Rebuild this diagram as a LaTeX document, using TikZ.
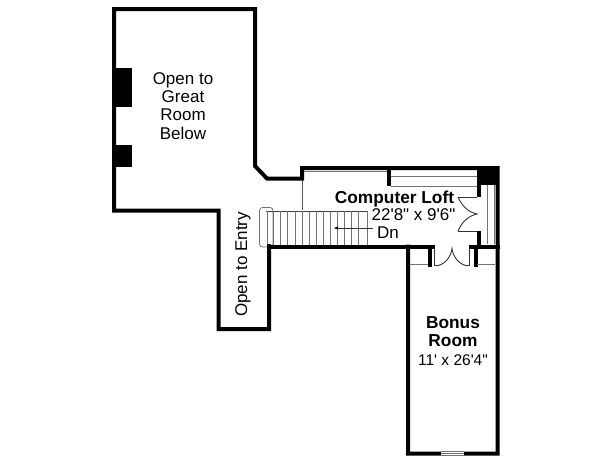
\documentclass[tikz,border=0pt]{standalone}
\usepackage{fontspec}
\newfontfamily\hs{Liberation Sans}
\tikzset{
 wall/.style={line width=4pt,line join=miter,line cap=rect,black},
 thin wall/.style={line width=1pt,black!65},
 fine/.style={line width=0.8pt,black!55},
 door/.style={line width=0.9pt,black!80},
 label/.style={font=\hs\fontsize{17}{18.3}\selectfont,align=center,inner sep=0pt,anchor=base},
 small label/.style={font=\hs\fontsize{15.5}{18}\selectfont,align=center,inner sep=0pt,anchor=base},
 blabel/.style={font=\hs\bfseries\fontsize{17.3}{18}\selectfont,align=center,inner sep=0pt,anchor=base},
}
\begin{document}
\begin{tikzpicture}[x=1pt,y=-1pt]
\useasboundingbox (0,0) rectangle (600,461);
\fill[white] (0,0) rectangle (600,461);
% rail
\draw[fine,rounded corners=3pt] (259.5,207.5) rectangle (273,247);
% fine lines in loft
\draw[fine] (304,171.5) -- (387,171.5);
\draw[fine] (391,176.5) -- (477,176.5);
\draw[fine] (391,186) -- (477,186);
\draw[thin wall,line width=1.3pt] (302.5,180) -- (302.5,210);
\draw[fine] (487,185) -- (487,244);
\draw[fine] (494.5,185) -- (494.5,244);
% stairs
\draw[line width=1.6pt,black!75] (266,211.5) -- (368,211.5);
\foreach \x in {267,273.5,280.5,287.5,295,302,309,316,323,330,337,344,351,358,367}
  \draw[fine] (\x,211) -- (\x,245);
% main walls
\draw[wall] (269,246) -- (269,329) -- (218.5,329) -- (218.5,210.5) -- (114,210.5) -- (114,9) -- (255,9) -- (255,166) -- (267,178.5) -- (302,178.5) -- (302,168) -- (497.5,168) -- (497.5,453.5) -- (408,453.5) -- (408,246.5);
\draw[wall] (269,246.5) -- (433,246.5);
\draw[wall] (471,246.5) -- (497.5,246.5);
% blocks
\fill (112,68) rectangle (132,107);
\fill (112,145) rectangle (132,167);
\fill (477,167) rectangle (499,185);
\fill (387,168) rectangle (391,186);
\fill (477,185) rectangle (480.5,197);
\fill (477,231) rectangle (480.5,246);
\fill (428,246) rectangle (431.5,267);
\fill (474,246) rectangle (477.5,267);
% window
\fill[white] (441,451) rectangle (463.5,456);
\draw[fine] (441,451.5) -- (463.5,451.5) (441,453.7) -- (463.5,453.7) (441,455.7) -- (463.5,455.7);
% small wall bits
\draw[fine] (410,264.5) -- (428,264.5) (477,264.5) -- (495,264.5);
% doors
\draw[door] (458,197) -- (477,197);
\draw[door] (458,231) -- (477,231);
\draw[door] (458,197) .. controls (462,206) and (468,212) .. (477,214) .. controls (468,216) and (462,222) .. (458,231);
\draw[door] (434.5,248) -- (434.5,265.5) -- (438,265.5) .. controls (445,264) and (451,257) .. (452,248.5) .. controls (453,257) and (459,264) .. (466,265.5) -- (469.5,265.5) -- (469.5,248);
% arrow
\draw[door] (373,228) -- (335,228);
\fill (334,228) -- (338,226.5) -- (338,229.5) -- cycle;
% labels
\node[label] (great) at (183,139) {Open to\\Great\\Room\\Below};
\node[label,rotate=90] (entry) at (247,264.5) {Open to Entry};
\node[blabel] (loft) at (394.5,203) {Computer Loft};
\node[label] (loftdim) at (413.5,220.7) {22'8" x 9'6"};
\node[label,anchor=base west] (dn) at (377,238) {Dn};
\node[blabel] (bonus) at (453,346) {Bonus\\Room};
\node[small label] (bonusdim) at (453,365) {11' x 26'4"};
\end{tikzpicture}
\end{document}
